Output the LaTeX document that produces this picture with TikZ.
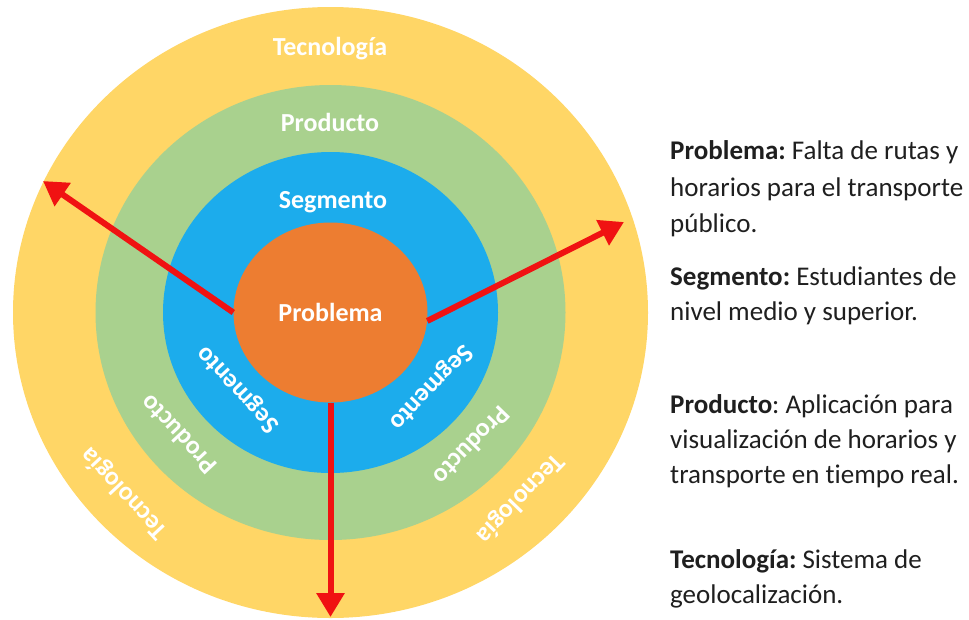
\documentclass[tikz,border=0pt]{standalone}
\usepackage{fontspec}
\setmainfont{Carlito}[Ligatures={NoCommon}]
\frenchspacing
\usetikzlibrary{arrows.meta,shapes.geometric}
\definecolor{ringTec}{RGB}{255,214,102}
\definecolor{ringProd}{RGB}{169,209,142}
\definecolor{ringSeg}{RGB}{28,172,236}
\definecolor{ringProb}{RGB}{237,125,49}
\definecolor{arrowred}{RGB}{240,18,18}
\begin{document}
\begin{tikzpicture}[x=1pt,y=-1pt,
  lbl/.style={font=\fontsize{26}{30}\selectfont\bfseries, text=white, inner sep=0pt},
  desc/.style={font=\fontsize{27}{33}\selectfont, anchor=base west, inner sep=0pt, text=black!88},
  redarrow/.style={draw=arrowred, line width=6pt, -{Triangle[length=24pt,width=27pt]}}]
\useasboundingbox (0,0) rectangle (969,619);
\fill[white] (0,0) rectangle (969,619);
\coordinate (c) at (330.5,312.5);
\fill[ringTec] (c) ellipse [x radius=317.5, y radius=305.5];
\fill[ringProd] (c) ellipse [x radius=235, y radius=227.5];
\fill[ringSeg] (c) ellipse [x radius=167.5, y radius=160.5];
\node[ellipse, fill=ringProb, minimum width=194pt, minimum height=180pt, lbl] (prob) at (c) {Problema};
% top labels
\node[lbl, anchor=base] (tecT) at (330,55) {Tecnología};
\node[lbl, anchor=base] (prodT) at (330,131) {Producto};
\node[lbl, anchor=base] (segT) at (333,208) {Segmento};
% lower-left labels
\node[lbl, rotate=133] (segL) at (238.5,389) {Segmento};
\node[lbl, rotate=133] (prodL) at (178,435) {Producto};
\node[lbl, rotate=133] (tecL) at (124.5,493) {Tecnología};
% lower-right labels
\node[lbl, rotate=-134] (segR) at (430.5,387) {Segmento};
\node[lbl, rotate=-134] (prodR) at (472,446) {Producto};
\node[lbl, rotate=-134] (tecR) at (520,498) {Tecnología};
% arrows
\coordinate (tipL) at (43,181);
\coordinate (tipR) at (624,222);
\coordinate (tipB) at (330.5,617);
\draw[redarrow] (prob.180) -- (tipL);
\draw[redarrow] (prob.-5) -- (tipR);
\draw[redarrow] (prob.-90) -- (tipB);
% description
\node[desc] (d1) at (670,159) {\textbf{Problema:} Falta de rutas y};
\node[desc] (d2) at (670,196) {horarios para el transporte};
\node[desc] (d3) at (670,232) {público.};
\node[desc] (d4) at (670,285) {\textbf{Segmento:} Estudiantes de};
\node[desc] (d5) at (670,320) {nivel medio y superior.};
\node[desc] (d6) at (670,413) {\textbf{Producto}: Aplicación para};
\node[desc] (d7) at (670,448) {visualización de horarios y};
\node[desc] (d8) at (670,483) {transporte en tiempo real.};
\node[desc] (d9) at (670,568) {\textbf{Tecnología:} Sistema de};
\node[desc] (d10) at (670,603) {geolocalización.};
\end{tikzpicture}
\end{document}
